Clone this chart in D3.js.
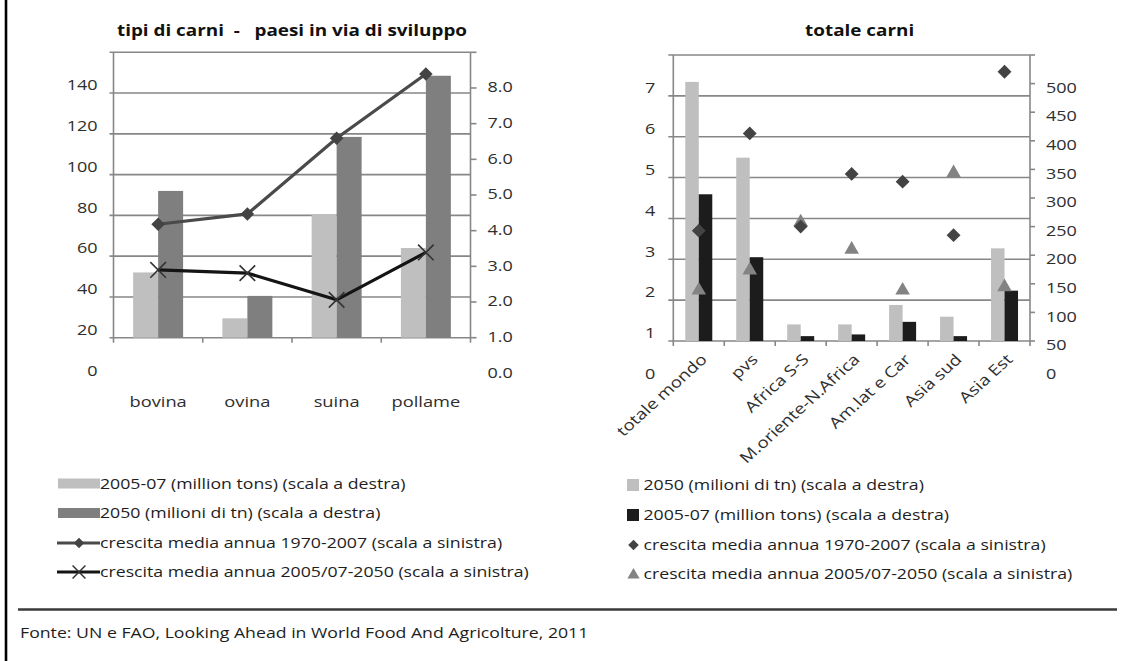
<!DOCTYPE html>
<html>
<head>
<meta charset="utf-8">
<script src="https://cdn.jsdelivr.net/npm/d3@7"></script>
<style>
  html, body { margin: 0; padding: 0; background: #fff; }
  svg { display: block; font-family: "Open Sans", "Noto Sans", sans-serif; }
</style>
</head>
<body>
<svg id="chart" width="1131" height="661"></svg>
<script>
// ---- tipi di carni, paesi in via di sviluppo ----
const meatTypes      = ["bovina", "ovina", "suina", "pollame"];
const meat2005       = [52, 29.5, 80.5, 64];      // 2005-07
const meat2050       = [92, 40.5, 118.5, 148.5];  // 2050
const meatGrowth7007 = [4.18, 4.47, 6.59, 8.39];  // 1970-2007
const meatGrowth0550 = [2.90, 2.81, 2.06, 3.39];  // 2005/07-2050
const meatLeftTicks  = [0, 20, 40, 60, 80, 100, 120, 140];
const meatRightTicks = [0, 1, 2, 3, 4, 5, 6, 7, 8];

// ---- totale carni ----
const regions         = ["totale mondo", "pvs", "Africa S-S", "M.oriente-N.Africa", "Am.lat e Car", "Asia sud", "Asia Est"];
const total2050       = [503, 370.5, 79, 79, 113, 92.5, 212];
const total2005       = [306.5, 196.5, 58.5, 61.5, 83.5, 58.5, 138];
const totalGrowth7007 = [3.70, 6.08, 3.80, 5.09, 4.90, 3.59, 7.59];
const totalGrowth0550 = [2.29, 2.78, 3.96, 3.29, 2.29, 5.16, 2.37];
const totalLeftTicks  = [0, 1, 2, 3, 4, 5, 6, 7];
const totalRightTicks = [0, 50, 100, 150, 200, 250, 300, 350, 400, 450, 500];

const titles = ["tipi di carni  -   paesi in via di sviluppo", "totale carni"];
const meatLegend = [
  "2005-07 (million tons) (scala a destra)",
  "2050 (milioni di tn) (scala a destra)",
  "crescita media annua 1970-2007 (scala a sinistra)",
  "crescita media annua 2005/07-2050 (scala a sinistra)"
];
const totalLegend = [
  "2050 (milioni di tn) (scala a destra)",
  "2005-07 (million tons) (scala a destra)",
  "crescita media annua 1970-2007 (scala a sinistra)",
  "crescita media annua 2005/07-2050 (scala a sinistra)"
];
const sourceNote = "Fonte: UN e FAO, Looking Ahead in World Food And Agricolture, 2011";

const C = {
  grid: "#878787", text: "#2e2e2e", light: "#bfbfbf", mid: "#7f7f7f",
  black: "#1c1c1c", diamond: "#434343", lineDia: "#4a4a4a", lineX: "#141414", tri: "#838383"
};
const SX = 1.18; // horizontal text stretch

const svg = d3.select("#chart");

function label(g, x, y, s, o = {}) {
  const pre = o.gsx ? ` scale(${o.gsx},1)` : "";
  const rot = o.rotate ? ` rotate(${o.rotate})` : "";
  return g.append("text")
    .attr("transform", `translate(${x},${y})${pre}${rot} scale(${o.sx || SX},1)`)
    .attr("text-anchor", o.anchor || "start")
    .attr("dy", o.dy == null ? "0.35em" : o.dy)
    .attr("font-size", o.size || 15)
    .attr("font-weight", o.weight || "normal")
    .attr("fill", o.fill || C.text)
    .style("white-space", "pre")
    .text(s);
}

function hline(g, x1, x2, y, col = C.grid, w = 1.6) {
  g.append("line").attr("x1", x1).attr("x2", x2).attr("y1", y).attr("y2", y)
    .attr("stroke", col).attr("stroke-width", w);
}
function vline(g, x, y1, y2, col = C.grid, w = 1.6) {
  g.append("line").attr("x1", x).attr("x2", x).attr("y1", y1).attr("y2", y2)
    .attr("stroke", col).attr("stroke-width", w);
}

// =========== left chart ===========
{
  const g = svg.append("g");
  const x = d3.scaleBand().domain(meatTypes).range([113.5, 470.5]).paddingInner(0.44).paddingOuter(0.22);
  const xs = d3.scaleBand().domain(["2005", "2050"]).range([0, x.bandwidth()]);
  const yBar = d3.scaleLinear().domain([20, 160]).range([337.7, 52.3]);
  const yLine = d3.scaleLinear().domain([1, 9]).range([337.7, 52.3]);
  const [x0, x1] = x.range();

  // gridlines with short left ticks
  d3.range(20, 161, 20).forEach(v => hline(g, x0 - 4, x1, yBar(v)));
  // right-hand ticks
  d3.range(1, 10).forEach(v => hline(g, x1, x1 + 6, yLine(v)));
  vline(g, x0, yBar(160), yBar(20));
  vline(g, x1, yBar(160), yBar(20));
  // category boundary ticks
  d3.range(meatTypes.length + 1).forEach(i => vline(g, x0 + i * x.step(), yBar(20), yBar(20) + 5));

  // bars
  const bars = meatTypes.map((c, i) => ({ c, a: meat2005[i], b: meat2050[i] }));
  g.selectAll(".ba").data(bars).join("rect")
    .attr("x", d => x(d.c) + xs("2005")).attr("width", xs.bandwidth())
    .attr("y", d => yBar(d.a)).attr("height", d => yBar(20) - yBar(d.a)).attr("fill", C.light);
  g.selectAll(".bb").data(bars).join("rect")
    .attr("x", d => x(d.c) + xs("2050")).attr("width", xs.bandwidth())
    .attr("y", d => yBar(d.b)).attr("height", d => yBar(20) - yBar(d.b)).attr("fill", C.mid);

  const cx = c => x(c) + x.bandwidth() / 2;
  const line = d3.line().x(d => cx(d.c)).y(d => yLine(d.v));

  const s1 = meatTypes.map((c, i) => ({ c, v: meatGrowth7007[i] }));
  const s2 = meatTypes.map((c, i) => ({ c, v: meatGrowth0550[i] }));

  g.append("path").datum(s1).attr("d", line).attr("fill", "none")
    .attr("stroke", C.lineDia).attr("stroke-width", 3.2);
  g.selectAll(".dm").data(s1).join("path")
    .attr("d", d3.symbol(d3.symbolSquare, 92)())
    .attr("transform", d => `translate(${cx(d.c)},${yLine(d.v)}) rotate(45)`)
    .attr("fill", C.diamond);

  g.append("path").datum(s2).attr("d", line).attr("fill", "none")
    .attr("stroke", C.lineX).attr("stroke-width", 3.2);
  g.selectAll(".xm").data(s2).join("path")
    .attr("d", d3.symbol(d3.symbolTimes, 160)())
    .attr("transform", d => `translate(${cx(d.c)},${yLine(d.v)})`)
    .attr("fill", "none").attr("stroke", "#333").attr("stroke-width", 1.6);

  // axis labels
  meatLeftTicks.forEach(v => label(g, x0 - 16, yBar(v) - 8, String(v), { anchor: "end", sx: 1.2 }));
  meatRightTicks.forEach(v => label(g, x1 + 17, yLine(v) - 1, d3.format(".1f")(v), { sx: 1.2 }));
  meatTypes.forEach(c => label(g, cx(c), 402, c, { anchor: "middle", sx: 1.22 }));

  label(g, (x0 + x1) / 2, 30, titles[0], { anchor: "middle", size: 16, weight: "bold", fill: "#111" });

  // legend
  const ly = [483.5, 513, 543, 572];
  const lx = 58, lw = 42;
  g.append("rect").attr("x", lx).attr("y", ly[0] - 5).attr("width", lw).attr("height", 10).attr("fill", C.light);
  g.append("rect").attr("x", lx).attr("y", ly[1] - 5).attr("width", lw).attr("height", 10).attr("fill", C.mid);
  hline(g, lx - 1, lx + lw, ly[2], C.lineDia, 3.2);
  g.append("path").attr("d", d3.symbol(d3.symbolSquare, 56)())
    .attr("transform", `translate(${lx + lw / 2},${ly[2]}) rotate(45)`).attr("fill", C.diamond);
  hline(g, lx - 1, lx + lw, ly[3], C.lineX, 3.2);
  g.append("path").attr("d", d3.symbol(d3.symbolTimes, 110)())
    .attr("transform", `translate(${lx + lw / 2},${ly[3]})`)
    .attr("fill", "none").attr("stroke", "#333").attr("stroke-width", 1.5);
  meatLegend.forEach((s, i) => label(g, lx + lw, ly[i], s, { size: 15, fill: "#1e1e1e" }));
}

// =========== right chart ===========
{
  const g = svg.append("g");
  const x = d3.scaleBand().domain(regions).range([673.3, 1030]).paddingInner(0.47).paddingOuter(0.235);
  const xs = d3.scaleBand().domain(["2050", "2005"]).range([0, x.bandwidth()]);
  const yBar = d3.scaleLinear().domain([50, 550]).range([341, 55]);
  const yMk = d3.scaleLinear().domain([1, 8]).range([341, 55]);
  const [x0, x1] = x.range();

  d3.range(1, 9).forEach(v => hline(g, x0 - 5, x1, yMk(v)));
  d3.range(50, 551, 50).forEach(v => hline(g, x1, x1 + 5, yBar(v)));
  vline(g, x0, yMk(8), yMk(1));
  vline(g, x1, yMk(8), yMk(1));
  d3.range(regions.length + 1).forEach(i => vline(g, x0 + i * x.step(), yMk(1), yMk(1) + 5));

  const bars = regions.map((c, i) => ({ c, a: total2050[i], b: total2005[i] }));
  g.selectAll(".ra").data(bars).join("rect")
    .attr("x", d => x(d.c) + xs("2050")).attr("width", xs.bandwidth())
    .attr("y", d => yBar(d.a)).attr("height", d => yBar(50) - yBar(d.a)).attr("fill", C.light);
  g.selectAll(".rb").data(bars).join("rect")
    .attr("x", d => x(d.c) + xs("2005")).attr("width", xs.bandwidth())
    .attr("y", d => yBar(d.b)).attr("height", d => yBar(50) - yBar(d.b)).attr("fill", C.black);

  const cx = c => x(c) + x.bandwidth() / 2;
  const tri = regions.map((c, i) => ({ c, v: totalGrowth0550[i] }));
  const dia = regions.map((c, i) => ({ c, v: totalGrowth7007[i] }));

  g.selectAll(".tr").data(tri).join("path")
    .attr("d", d3.symbol(d3.symbolTriangle, 92)())
    .attr("transform", d => `translate(${cx(d.c)},${yMk(d.v) + 2})`)
    .attr("fill", C.tri);
  g.selectAll(".di").data(dia).join("path")
    .attr("d", d3.symbol(d3.symbolSquare, 96)())
    .attr("transform", d => `translate(${cx(d.c)},${yMk(d.v)}) rotate(45)`)
    .attr("fill", C.diamond);

  totalLeftTicks.forEach(v => label(g, x0 - 18, yMk(v) - 8, String(v), { anchor: "end", sx: 1.2 }));
  totalRightTicks.forEach(v => label(g, x1 + 16, yBar(v) + 4, String(v), { sx: 1.2 }));
  regions.forEach(c => label(g, cx(c) + 1, 353, c, { anchor: "end", gsx: 1.1, rotate: -45, size: 15, dy: "0.7em", sx: 1.15 }));

  label(g, (x0 + x1) / 2 + 8, 30, titles[1], { anchor: "middle", size: 16, weight: "bold", fill: "#111" });

  // legend
  const ly = [485, 515, 545, 574];
  const lx = 633.5;
  g.append("rect").attr("x", lx - 6.5).attr("y", ly[0] - 6).attr("width", 12).attr("height", 12).attr("fill", C.light);
  g.append("rect").attr("x", lx - 6.5).attr("y", ly[1] - 6).attr("width", 12).attr("height", 12).attr("fill", C.black);
  g.append("path").attr("d", d3.symbol(d3.symbolSquare, 56)())
    .attr("transform", `translate(${lx},${ly[2]}) rotate(45)`).attr("fill", C.diamond);
  g.append("path").attr("d", d3.symbol(d3.symbolTriangle, 64)())
    .attr("transform", `translate(${lx},${ly[3] + 1})`).attr("fill", C.tri);
  totalLegend.forEach((s, i) => label(g, lx + 10, ly[i], s, { size: 15, fill: "#1e1e1e" }));
}

// frame, separator and source
vline(svg, 6, 0, 661, "#000", 2.6);
hline(svg, 18, 1117, 609.5, "#3a3a3a", 2.6);
label(svg, 20, 633, sourceNote, { size: 15, fill: "#1e1e1e" });
</script>
</body>
</html>
